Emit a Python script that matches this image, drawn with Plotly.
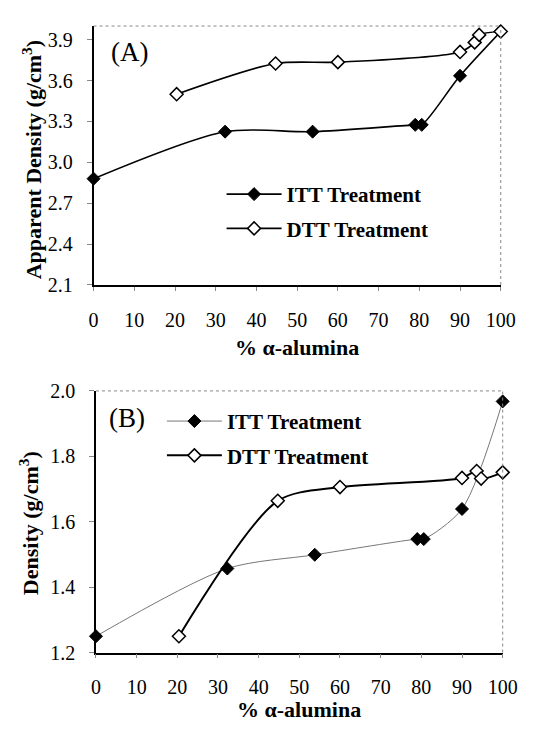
import plotly.graph_objects as go

# ---- data ----
pct_itt = [0, 32.3, 53.8, 79.0, 80.6, 90.0, 100]
pct_dtt = [20.4, 44.7, 60.0, 90.0, 93.6, 94.7, 100]
appdens_itt = [2.88, 3.225, 3.225, 3.275, 3.275, 3.635, 3.96]
appdens_dtt = [3.50, 3.725, 3.735, 3.81, 3.88, 3.935, 3.96]
dens_itt = [1.25, 1.457, 1.499, 1.547, 1.547, 1.639, 1.968]
dens_dtt = [1.25, 1.664, 1.706, 1.734, 1.755, 1.732, 1.751]
x_ticks = [0, 10, 20, 30, 40, 50, 60, 70, 80, 90, 100]
yA_ticks = [2.1, 2.4, 2.7, 3.0, 3.3, 3.6, 3.9]
yB_ticks = [1.2, 1.4, 1.6, 1.8, 2.0]
series_names = ["ITT Treatment", "DTT Treatment"]

W, H = 535, 731
SERIF = "Liberation Serif, Times New Roman, serif"

fig = go.Figure()

# Panel A
fig.add_trace(go.Scatter(x=pct_itt, y=appdens_itt, name=series_names[0], mode="lines+markers",
                         line=dict(color="black", width=1.6, shape="spline", smoothing=0.8),
                         marker=dict(symbol="diamond", size=10, color="black", line=dict(color="black", width=1)),
                         xaxis="x", yaxis="y", legend="legend", cliponaxis=False, legendgroup="a1"))
fig.add_trace(go.Scatter(x=pct_dtt, y=appdens_dtt, name=series_names[1], mode="lines+markers",
                         line=dict(color="black", width=1.6, shape="spline", smoothing=0.8),
                         marker=dict(symbol="diamond", size=10, color="white", line=dict(color="black", width=1.5)),
                         xaxis="x", yaxis="y", legend="legend", cliponaxis=False, legendgroup="a2"))
# Panel B
fig.add_trace(go.Scatter(x=pct_itt, y=dens_itt, name=series_names[0], mode="lines+markers",
                         line=dict(color="#777777", width=1, shape="spline", smoothing=0.8),
                         marker=dict(symbol="diamond", size=10, color="black", line=dict(color="black", width=1)),
                         xaxis="x2", yaxis="y2", legend="legend2", cliponaxis=False, legendgroup="b1"))
fig.add_trace(go.Scatter(x=pct_dtt, y=dens_dtt, name=series_names[1], mode="lines+markers",
                         line=dict(color="black", width=2, shape="spline", smoothing=0.8),
                         marker=dict(symbol="diamond", size=10, color="white", line=dict(color="black", width=1.5)),
                         xaxis="x2", yaxis="y2", legend="legend2", cliponaxis=False, legendgroup="b2"))

def px_x(p):
    return p / W

def px_y(p):
    return 1 - p / H

tickfont = dict(family=SERIF, size=20, color="black")
common_x = dict(range=[0, 100], tickvals=x_ticks, showgrid=False, zeroline=False,
                showline=True, linecolor="black", linewidth=1.5, ticks="outside",
                ticklen=4, tickcolor="#888888", tickfont=tickfont, ticklabelstandoff=12)

fig.update_layout(
    width=W, height=H,
    margin=dict(l=0, r=0, t=0, b=0),
    paper_bgcolor="white", plot_bgcolor="white",
    xaxis=dict(domain=[px_x(92), px_x(515)], anchor="y", **common_x),
    yaxis=dict(domain=[px_y(282.5), px_y(15.5)], anchor="x", range=[2.1, 4.0],
               tickvals=yA_ticks, tickformat=".1f", showgrid=False, zeroline=False,
               showline=True, linecolor="black", linewidth=1.5, ticks="outside",
               ticklen=5, tickcolor="#888888", tickfont=tickfont, ticklabelstandoff=10),
    xaxis2=dict(domain=[px_x(94.5), px_x(517)], anchor="y2", **common_x),
    yaxis2=dict(domain=[px_y(661.5), px_y(391.7)], anchor="x2", range=[1.2, 2.0],
                tickvals=yB_ticks, tickformat=".1f", showgrid=False, zeroline=False,
                showline=True, linecolor="black", linewidth=1.5, ticks="outside",
                ticklen=5, tickcolor="#888888", tickfont=tickfont, ticklabelstandoff=10),
    legend=dict(x=px_x(225), y=px_y(168), xanchor="left", yanchor="top",
                bgcolor="rgba(0,0,0,0)", itemwidth=55, traceorder="grouped", tracegroupgap=4,
                font=dict(family=SERIF, size=21, color="black", weight="bold")),
    legend2=dict(x=px_x(163), y=px_y(402), xanchor="left", yanchor="top",
                 bgcolor="rgba(0,0,0,0)", itemwidth=55, traceorder="grouped", tracegroupgap=4,
                 font=dict(family=SERIF, size=21, color="black", weight="bold")),
    showlegend=True,
)

# dotted top/right plot-area borders
for xr, yr in (("x", "y"), ("x2", "y2")):
    fig.add_shape(type="line", xref=f"{xr} domain", yref=f"{yr} domain", x0=0, x1=1, y0=1, y1=1,
                  line=dict(color="#888888", width=1, dash="dot"))
    fig.add_shape(type="line", xref=f"{xr} domain", yref=f"{yr} domain", x0=1, x1=1, y0=0, y1=1,
                  line=dict(color="#888888", width=1, dash="dot"))

titlefont = dict(family=SERIF, size=22, color="black")
ann = [
    dict(text="(A)", x=px_x(129), y=px_y(42), font=dict(family=SERIF, size=27, color="black")),
    dict(text="(B)", x=px_x(127), y=px_y(420), font=dict(family=SERIF, size=27, color="black")),
    dict(text="<b>% α-alumina</b>", x=px_x(303), y=px_y(347), font=titlefont),
    dict(text="<b>% α-alumina</b>", x=px_x(305), y=px_y(720), font=titlefont),
    dict(text="<b>Apparent Density (g/cm<sup>3</sup>)</b>", x=px_x(28), y=px_y(153), textangle=-90, font=titlefont),
    dict(text="<b>Density (g/cm<sup>3</sup>)</b>", x=px_x(25), y=px_y(528), textangle=-90, font=titlefont),
]
for a in ann:
    fig.add_annotation(xref="paper", yref="paper", showarrow=False, xanchor="center", yanchor="middle", **a)

fig.write_html("out.html",
               post_script="document.body.style.margin='0px';document.body.style.padding='0px';")
